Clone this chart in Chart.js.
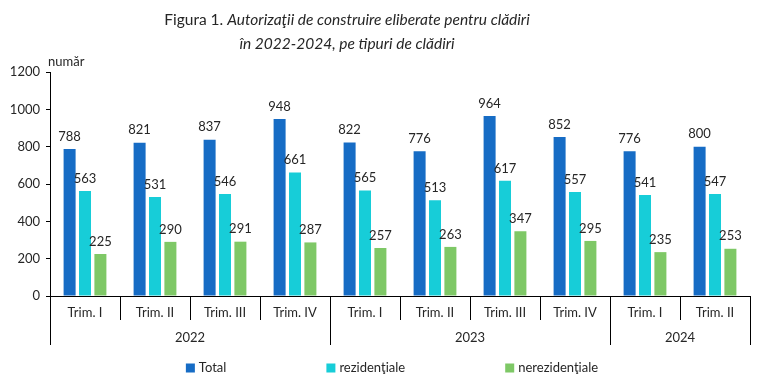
<!DOCTYPE html>
<html>
<head>
<meta charset="utf-8">
<script src="https://cdn.jsdelivr.net/npm/chart.js@4.4.1/dist/chart.umd.min.js"></script>
<style>
  html, body { margin: 0; padding: 0; background: #fff; }
  #wrap { width: 760px; height: 384px; }
</style>
</head>
<body>
<div id="wrap"><canvas id="chart" width="760" height="384"></canvas></div>
<script>
const quarters = ['Trim. I', 'Trim. II', 'Trim. III', 'Trim. IV', 'Trim. I', 'Trim. II', 'Trim. III', 'Trim. IV', 'Trim. I', 'Trim. II'];
const years = ['2022', '2023', '2024'];
const quartersPerYear = [4, 4, 2];

const total = [788, 821, 837, 948, 822, 776, 964, 852, 776, 800];
const rezidentiale = [563, 531, 546, 661, 565, 513, 617, 557, 541, 547];
const nerezidentiale = [225, 290, 291, 287, 257, 263, 347, 295, 235, 253];

const seriesNames = ['Total', 'rezidenţiale', 'nerezidenţiale'];
const colors = ['#166cc5', '#17cdd8', '#7ec866'];

const FONT = 'Lato, "Open Sans", sans-serif';
const TEXT = '#262626';

// titlu, etichete de valori, separatori pe axa X, ani, legenda
const extras = {
  id: 'extras',
  afterDraw(chart) {
    const ctx = chart.ctx;
    const x = chart.scales.x;
    const y = chart.scales.y;
    const area = chart.chartArea;
    ctx.save();

    // titlu
    const part1 = 'Figura 1. ';
    const part2 = 'Autorizaţii de construire eliberate pentru clădiri';
    const line2 = 'în 2022-2024, pe tipuri de clădiri';
    const cx = 347;
    ctx.fillStyle = TEXT;
    ctx.textBaseline = 'middle';
    ctx.font = '15.5px ' + FONT;
    const w1 = ctx.measureText(part1).width;
    ctx.font = 'italic 15.5px ' + FONT;
    const w2 = ctx.measureText(part2).width;
    let sx = cx - (w1 + w2) / 2;
    ctx.textAlign = 'left';
    ctx.font = '15.5px ' + FONT;
    ctx.fillText(part1, sx, 20);
    ctx.font = 'italic 15.5px ' + FONT;
    ctx.fillText(part2, sx + w1, 20);
    ctx.textAlign = 'center';
    ctx.fillText(line2, cx, 44);

    // unitate
    ctx.font = '13px ' + FONT;
    ctx.textAlign = 'left';
    ctx.fillText('număr', y.right - 2, area.top - 10);

    // etichete valori
    ctx.textAlign = 'center';
    ctx.textBaseline = 'bottom';
    chart.data.datasets.forEach((ds, di) => {
      const meta = chart.getDatasetMeta(di);
      meta.data.forEach((bar, i) => {
        ctx.fillText(ds.data[i], bar.x, bar.y - 6);
      });
    });

    // separatori
    const n = quarters.length;
    const yearEdges = [0];
    quartersPerYear.reduce((acc, c) => { yearEdges.push(acc + c); return acc + c; }, 0);
    const edgeX = i => {
      if (i === 0) return x.left;
      if (i === n) return x.right;
      return (x.getPixelForValue(i - 1) + x.getPixelForValue(i)) / 2;
    };
    ctx.strokeStyle = '#000';
    ctx.lineWidth = 1;
    for (let i = 0; i <= n; i++) {
      const px = Math.round(edgeX(i)) + 0.5;
      const len = yearEdges.includes(i) ? 49 : 24;
      ctx.beginPath();
      ctx.moveTo(px, area.bottom);
      ctx.lineTo(px, area.bottom + len);
      ctx.stroke();
    }

    // ani
    ctx.textBaseline = 'middle';
    ctx.fillStyle = TEXT;
    years.forEach((yr, k) => {
      const mid = (edgeX(yearEdges[k]) + edgeX(yearEdges[k + 1])) / 2;
      ctx.fillText(yr, mid, area.bottom + 42);
    });

    // legenda
    const gap = 100;
    const box = 9;
    const widths = seriesNames.map(s => box + 4 + ctx.measureText(s).width);
    const full = widths.reduce((a, b) => a + b, 0) + gap * (widths.length - 1);
    let lx = 392 - full / 2;
    const ly = 368;
    seriesNames.forEach((s, k) => {
      ctx.fillStyle = colors[k];
      ctx.fillRect(lx, ly - box / 2, box, box);
      ctx.fillStyle = TEXT;
      ctx.textAlign = 'left';
      ctx.fillText(s, lx + box + 4, ly);
      lx += widths[k] + gap;
    });

    ctx.restore();
  }
};

new Chart(document.getElementById('chart'), {
  type: 'bar',
  data: {
    labels: quarters,
    datasets: [
      { label: seriesNames[0], data: total, backgroundColor: colors[0] },
      { label: seriesNames[1], data: rezidentiale, backgroundColor: colors[1] },
      { label: seriesNames[2], data: nerezidentiale, backgroundColor: colors[2] }
    ]
  },
  options: {
    responsive: false,
    animation: false,
    layout: { padding: { top: 72, right: 10, bottom: 26, left: 0 } },
    datasets: { bar: { categoryPercentage: 0.66, barPercentage: 0.78 } },
    plugins: {
      legend: { display: false },
      title: { display: false },
      tooltip: { enabled: false }
    },
    scales: {
      x: {
        grid: { display: false, drawTicks: false },
        border: { display: true, color: '#000', width: 1 },
        ticks: { color: TEXT, font: { family: FONT, size: 13 }, padding: 9, maxRotation: 0 },
        afterFit(scale) { scale.height = 62; }
      },
      y: {
        min: 0,
        max: 1200,
        ticks: {
          stepSize: 200, color: TEXT, font: { family: FONT, size: 13 }, padding: 6,
          callback: v => String(v)
        },
        grid: { drawOnChartArea: false, tickLength: 4, color: '#000' },
        border: { display: true, color: '#000', width: 1 },
        afterFit(scale) { scale.width = 50; }
      }
    }
  },
  plugins: [extras]
});
</script>
</body>
</html>
